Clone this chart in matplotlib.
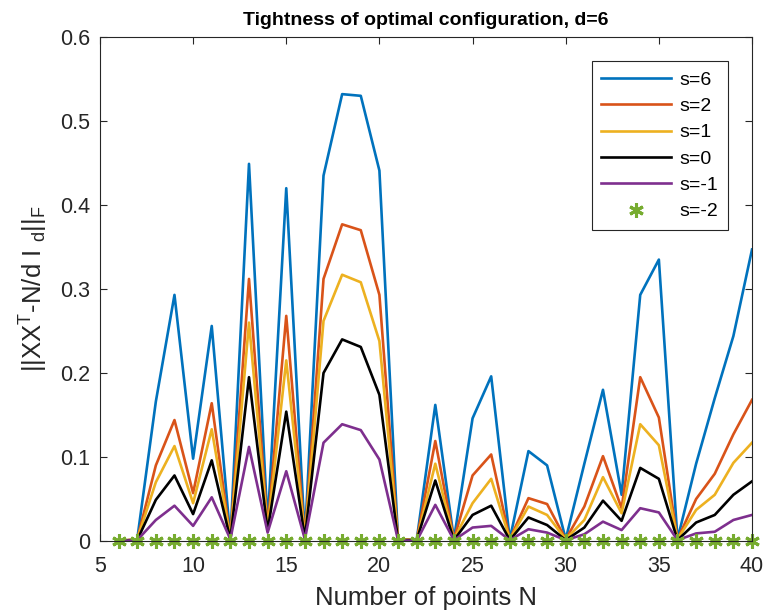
import matplotlib
matplotlib.use("Agg")
import matplotlib.pyplot as plt

plt.rcParams["font.family"] = ["Liberation Sans", "DejaVu Sans"]
plt.rcParams["mathtext.default"] = "regular"

N = list(range(6, 41))

s6 = [0, 0.002, 0.166, 0.293, 0.098, 0.256, 0.003, 0.449, 0.02, 0.42, 0.004,
      0.435, 0.532, 0.530, 0.441, 0.002, 0.001, 0.162, 0.002, 0.146, 0.196,
      0.002, 0.107, 0.090, 0.002, 0.092, 0.180, 0.055, 0.293, 0.335, 0.002,
      0.092, 0.170, 0.244, 0.347]
s2 = [0, 0.002, 0.090, 0.144, 0.057, 0.164, 0.003, 0.312, 0.016, 0.268, 0.004,
      0.312, 0.377, 0.370, 0.293, 0.002, 0.001, 0.119, 0.002, 0.078, 0.103,
      0.002, 0.051, 0.044, 0.002, 0.041, 0.101, 0.039, 0.195, 0.147, 0.002,
      0.050, 0.080, 0.127, 0.168]
s1 = [0, 0.002, 0.070, 0.113, 0.045, 0.133, 0.003, 0.260, 0.014, 0.215, 0.004,
      0.262, 0.317, 0.308, 0.238, 0.002, 0.001, 0.092, 0.002, 0.045, 0.074,
      0.002, 0.041, 0.031, 0.002, 0.025, 0.076, 0.033, 0.139, 0.114, 0.002,
      0.037, 0.055, 0.093, 0.117]
s0 = [0, 0.001, 0.049, 0.078, 0.032, 0.096, 0.002, 0.195, 0.012, 0.154, 0.003,
      0.200, 0.240, 0.231, 0.174, 0.001, 0.001, 0.072, 0.001, 0.031, 0.042,
      0.001, 0.028, 0.019, 0.001, 0.016, 0.048, 0.024, 0.087, 0.074, 0.001,
      0.022, 0.031, 0.055, 0.071]
sm1 = [0, 0.001, 0.025, 0.042, 0.018, 0.052, 0.002, 0.112, 0.010, 0.083, 0.002,
       0.117, 0.139, 0.132, 0.097, 0.001, 0.0, 0.043, 0.001, 0.016, 0.018,
       0.001, 0.014, 0.010, 0.001, 0.008, 0.023, 0.013, 0.039, 0.034, 0.001,
       0.009, 0.011, 0.025, 0.031]
sm2 = [0] * len(N)

series = [("s=6", s6, (0, 0.447, 0.741)),
          ("s=2", s2, (0.85, 0.325, 0.098)),
          ("s=1", s1, (0.929, 0.694, 0.125)),
          ("s=0", s0, (0, 0, 0)),
          ("s=-1", sm1, (0.494, 0.184, 0.556))]

fig = plt.figure(figsize=(7.63, 6.11), dpi=100)
ax = fig.add_axes([0.131, 0.1146, 0.8546, 0.8248])

for name, vals, col in series:
    ax.plot(N, vals, color=col, lw=1.9, label=name)
ax.plot(N, sm2, ls="none", marker=(6, 2, 0), color=(0.466, 0.674, 0.188),
        ms=10.5, mew=2.2, label="s=-2", clip_on=False)

ax.set_xlim(5, 40)
ax.set_ylim(0, 0.6)
ax.set_xticks(range(5, 41, 5))
ax.set_yticks([0, 0.1, 0.2, 0.3, 0.4, 0.5, 0.6])
ax.set_yticklabels(["0", "0.1", "0.2", "0.3", "0.4", "0.5", "0.6"])
ax.tick_params(direction="in", top=True, right=True, labelsize=15.5, length=5,
               color="#262626", labelcolor="#262626")
ax.tick_params(axis="x", pad=11)
ax.tick_params(axis="y", pad=7)
for sp in ax.spines.values():
    sp.set_color("#262626")
    sp.set_linewidth(0.8)

ax.set_xlabel("Number of points N", fontsize=18.5, color="#262626", labelpad=6)
ax.set_ylabel(r"||XX$^T$-N/d I $_d$||$_F$", fontsize=18.5, color="#262626", labelpad=7)
ax.set_title("Tightness of optimal configuration, d=6", fontsize=14,
             fontweight="bold", pad=9)

leg = ax.legend(loc="upper right", fontsize=14, fancybox=False, edgecolor="#262626",
                framealpha=1, handlelength=3.6, handletextpad=0.4,
                borderaxespad=1.25, labelspacing=0.45, borderpad=0.5)
leg.get_frame().set_linewidth(0.8)

plt.savefig("out.png", dpi=100)
